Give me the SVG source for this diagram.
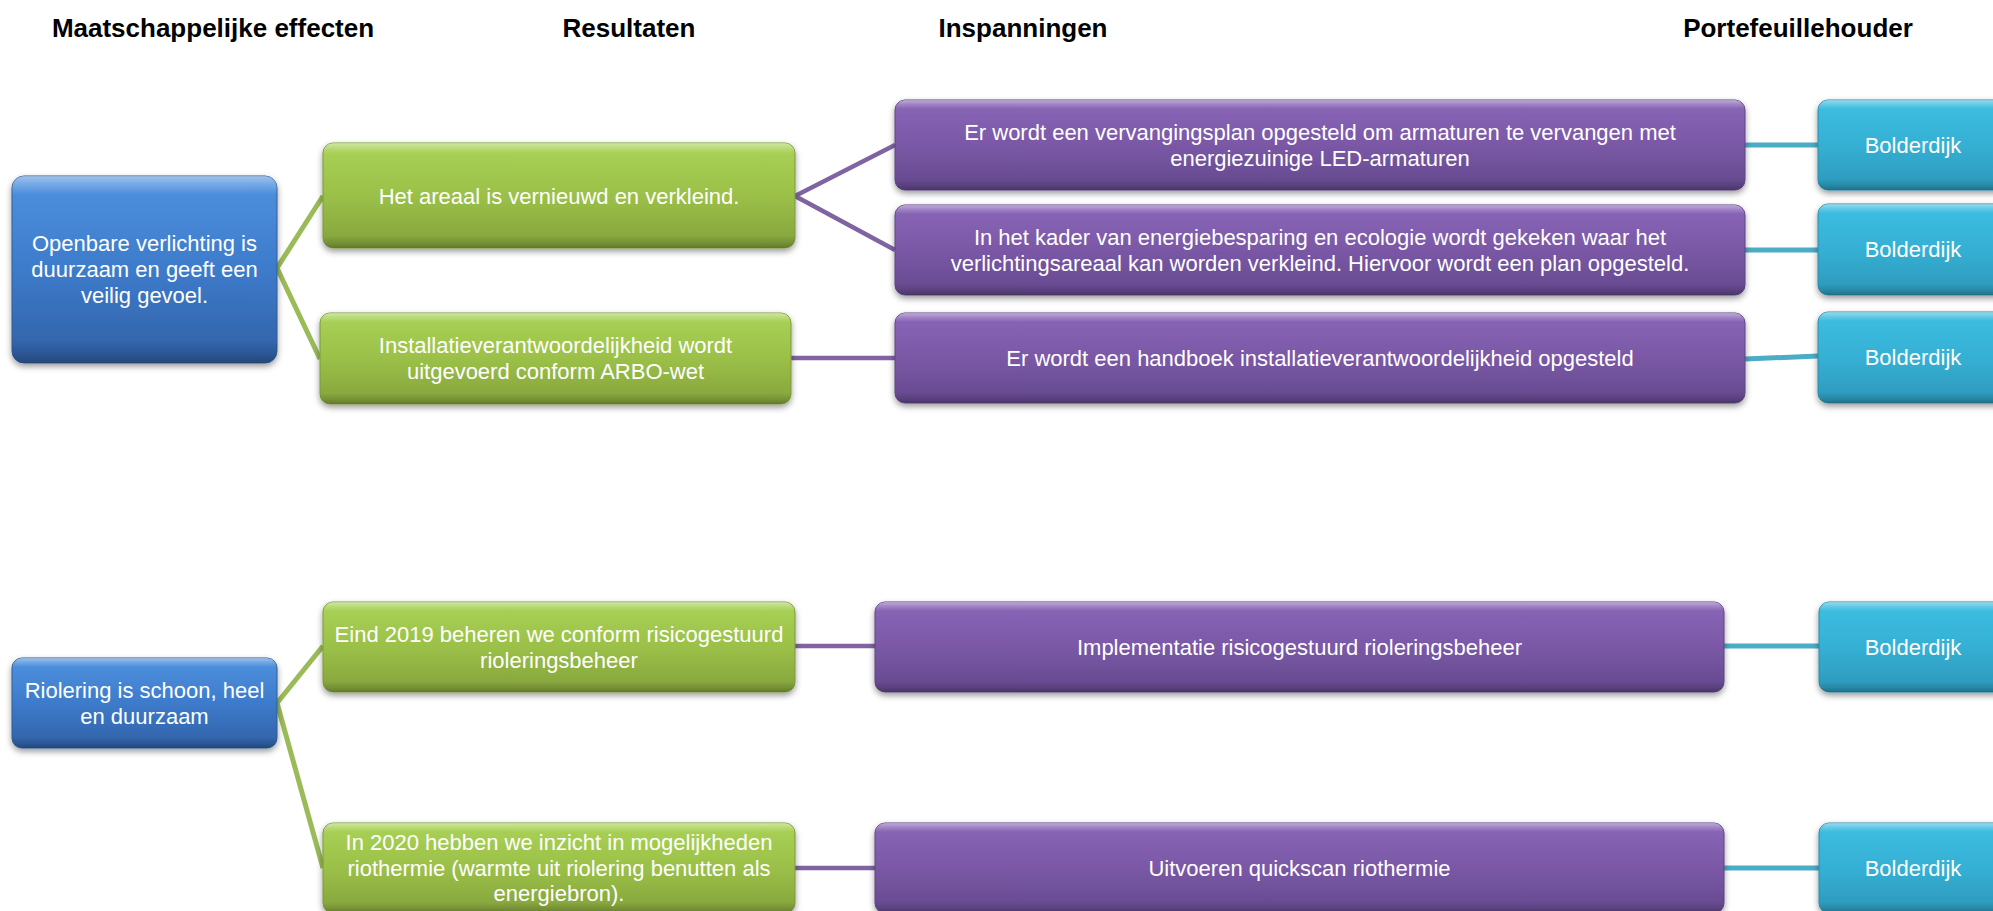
<svg xmlns="http://www.w3.org/2000/svg" width="1993" height="911" viewBox="0 0 1993 911">
<style>
  .hdr { font-family: "Liberation Sans", Arial, sans-serif; font-weight: bold; font-size: 26px; fill: #000; text-anchor: middle; }
  .lbl { font-family: "Liberation Sans", Arial, sans-serif; font-size: 22px; fill: #fff; text-anchor: middle; }
  .box { filter: url(#shadow); }
  .bevel { fill: url(#bevel); }
  .cg { stroke: #9BBB59; stroke-width: 5; fill: none; }
  .cp { stroke: #8064A2; stroke-width: 4.5; fill: none; }
  .ct { stroke: #4BACC6; stroke-width: 5; fill: none; }
  .blue { fill: url(#gBlue); stroke: #2f5c98; stroke-width: 1; }
  .green { fill: url(#gGreen); stroke: #7a9a3a; stroke-width: 1; }
  .purple { fill: url(#gPurple); stroke: #5c4482; stroke-width: 1; }
  .teal { fill: url(#gTeal); stroke: #2a8aaa; stroke-width: 1; }
</style>
<defs>
  <filter id="shadow" x="-10%" y="-20%" width="120%" height="150%">
    <feDropShadow dx="0" dy="3" stdDeviation="3" flood-color="#000" flood-opacity="0.4"/>
  </filter>
  <linearGradient id="gBlue" x1="0" y1="0" x2="0" y2="1">
    <stop offset="0" stop-color="#4f92df"/>
    <stop offset="0.5" stop-color="#3d7bcb"/>
    <stop offset="1" stop-color="#3060a4"/>
  </linearGradient>
  <linearGradient id="gGreen" x1="0" y1="0" x2="0" y2="1">
    <stop offset="0" stop-color="#aad357"/>
    <stop offset="0.5" stop-color="#9bc048"/>
    <stop offset="1" stop-color="#84a23c"/>
  </linearGradient>
  <linearGradient id="gPurple" x1="0" y1="0" x2="0" y2="1">
    <stop offset="0" stop-color="#8a66b8"/>
    <stop offset="0.5" stop-color="#7a58a6"/>
    <stop offset="1" stop-color="#63488c"/>
  </linearGradient>
  <linearGradient id="gTeal" x1="0" y1="0" x2="0" y2="1">
    <stop offset="0" stop-color="#3dbfe2"/>
    <stop offset="0.5" stop-color="#35b0d4"/>
    <stop offset="1" stop-color="#2c97b9"/>
  </linearGradient>
  <linearGradient id="bevel" x1="0" y1="0" x2="0" y2="1">
    <stop offset="0" stop-color="#fff" stop-opacity="0.45"/>
    <stop offset="0.05" stop-color="#fff" stop-opacity="0.2"/>
    <stop offset="0.1" stop-color="#fff" stop-opacity="0"/>
    <stop offset="0.88" stop-color="#000" stop-opacity="0"/>
    <stop offset="0.95" stop-color="#000" stop-opacity="0.12"/>
    <stop offset="1" stop-color="#000" stop-opacity="0.25"/>
  </linearGradient>
</defs>
<rect width="1993" height="911" fill="#fff"/>

<g id="headers">
  <text class="hdr" x="213" y="37">Maatschappelijke effecten</text>
  <text class="hdr" x="629" y="37">Resultaten</text>
  <text class="hdr" x="1023" y="37">Inspanningen</text>
  <text class="hdr" x="1798" y="37">Portefeuillehouder</text>
</g>

<g id="connectors">
  <polyline class="cg" points="323,196 277,268 320,359"/>
  <polyline class="cp" points="895,145 795,196 895,250"/>
  <line class="cp" x1="791" y1="358" x2="895" y2="358"/>
  <line class="ct" x1="1745" y1="145" x2="1818" y2="145"/>
  <line class="ct" x1="1745" y1="250" x2="1818" y2="250"/>
  <line class="ct" x1="1745" y1="359" x2="1818" y2="356"/>
  <polyline class="cg" points="323,646 277,703 323,868"/>
  <line class="cp" x1="795" y1="646" x2="875" y2="646"/>
  <line class="cp" x1="795" y1="868" x2="875" y2="868"/>
  <line class="ct" x1="1724" y1="646" x2="1819" y2="646"/>
  <line class="ct" x1="1724" y1="868" x2="1819" y2="868"/>
</g>

<g id="blue1">
  <rect class="box blue" x="12" y="176" width="265" height="187" rx="12"/>
  <rect class="bevel" x="12" y="176" width="265" height="187" rx="12"/>
  <text class="lbl" x="144.5"><tspan x="144.5" y="251">Openbare verlichting is</tspan><tspan x="144.5" y="277">duurzaam en geeft een</tspan><tspan x="144.5" y="303">veilig gevoel.</tspan></text>
</g>
<g id="green1">
  <rect class="box green" x="323" y="143" width="472" height="105" rx="10"/>
  <rect class="bevel" x="323" y="143" width="472" height="105" rx="10"/>
  <text class="lbl" x="559" y="203.5">Het areaal is vernieuwd en verkleind.</text>
</g>
<g id="green2">
  <rect class="box green" x="320" y="313" width="471" height="91" rx="10"/>
  <rect class="bevel" x="320" y="313" width="471" height="91" rx="10"/>
  <text class="lbl"><tspan x="555.5" y="353">Installatieverantwoordelijkheid wordt</tspan><tspan x="555.5" y="379">uitgevoerd conform ARBO-wet</tspan></text>
</g>
<g id="purple1">
  <rect class="box purple" x="895" y="100" width="850" height="90" rx="10"/>
  <rect class="bevel" x="895" y="100" width="850" height="90" rx="10"/>
  <text class="lbl"><tspan x="1320" y="139.5">Er wordt een vervangingsplan opgesteld om armaturen te vervangen met</tspan><tspan x="1320" y="165.5">energiezuinige LED-armaturen</tspan></text>
</g>
<g id="purple2">
  <rect class="box purple" x="895" y="205" width="850" height="90" rx="10"/>
  <rect class="bevel" x="895" y="205" width="850" height="90" rx="10"/>
  <text class="lbl"><tspan x="1320" y="244.5">In het kader van energiebesparing en ecologie wordt gekeken waar het</tspan><tspan x="1320" y="270.5">verlichtingsareaal kan worden verkleind. Hiervoor wordt een plan opgesteld.</tspan></text>
</g>
<g id="purple3">
  <rect class="box purple" x="895" y="313" width="850" height="90" rx="10"/>
  <rect class="bevel" x="895" y="313" width="850" height="90" rx="10"/>
  <text class="lbl" x="1320" y="365.5">Er wordt een handboek installatieverantwoordelijkheid opgesteld</text>
</g>
<g id="teal1">
  <rect class="box teal" x="1818" y="100" width="190" height="90" rx="10"/>
  <rect class="bevel" x="1818" y="100" width="190" height="90" rx="10"/>
  <text class="lbl" x="1913" y="152.5">Bolderdijk</text>
</g>
<g id="teal2">
  <rect class="box teal" x="1818" y="204" width="190" height="91" rx="10"/>
  <rect class="bevel" x="1818" y="204" width="190" height="91" rx="10"/>
  <text class="lbl" x="1913" y="257">Bolderdijk</text>
</g>
<g id="teal3">
  <rect class="box teal" x="1818" y="312" width="190" height="91" rx="10"/>
  <rect class="bevel" x="1818" y="312" width="190" height="91" rx="10"/>
  <text class="lbl" x="1913" y="365">Bolderdijk</text>
</g>

<g id="blue2">
  <rect class="box blue" x="12" y="658" width="265" height="90" rx="10"/>
  <rect class="bevel" x="12" y="658" width="265" height="90" rx="10"/>
  <text class="lbl"><tspan x="144.5" y="697.5">Riolering is schoon, heel</tspan><tspan x="144.5" y="723.5">en duurzaam</tspan></text>
</g>
<g id="green3">
  <rect class="box green" x="323" y="602" width="472" height="90" rx="10"/>
  <rect class="bevel" x="323" y="602" width="472" height="90" rx="10"/>
  <text class="lbl"><tspan x="559" y="641.5">Eind 2019 beheren we conform risicogestuurd</tspan><tspan x="559" y="667.5">rioleringsbeheer</tspan></text>
</g>
<g id="green4">
  <rect class="box green" x="323" y="823" width="472" height="90" rx="10"/>
  <rect class="bevel" x="323" y="823" width="472" height="90" rx="10"/>
  <text class="lbl"><tspan x="559" y="850">In 2020 hebben we inzicht in mogelijkheden</tspan><tspan x="559" y="875.5">riothermie (warmte uit riolering benutten als</tspan><tspan x="559" y="901">energiebron).</tspan></text>
</g>
<g id="purple4">
  <rect class="box purple" x="875" y="602" width="849" height="90" rx="10"/>
  <rect class="bevel" x="875" y="602" width="849" height="90" rx="10"/>
  <text class="lbl" x="1299.5" y="654.5">Implementatie risicogestuurd rioleringsbeheer</text>
</g>
<g id="purple5">
  <rect class="box purple" x="875" y="823" width="849" height="90" rx="10"/>
  <rect class="bevel" x="875" y="823" width="849" height="90" rx="10"/>
  <text class="lbl" x="1299.5" y="875.5">Uitvoeren quickscan riothermie</text>
</g>
<g id="teal4">
  <rect class="box teal" x="1819" y="602" width="190" height="90" rx="10"/>
  <rect class="bevel" x="1819" y="602" width="190" height="90" rx="10"/>
  <text class="lbl" x="1913" y="654.5">Bolderdijk</text>
</g>
<g id="teal5">
  <rect class="box teal" x="1819" y="823" width="190" height="90" rx="10"/>
  <rect class="bevel" x="1819" y="823" width="190" height="90" rx="10"/>
  <text class="lbl" x="1913" y="875.5">Bolderdijk</text>
</g>
</svg>
